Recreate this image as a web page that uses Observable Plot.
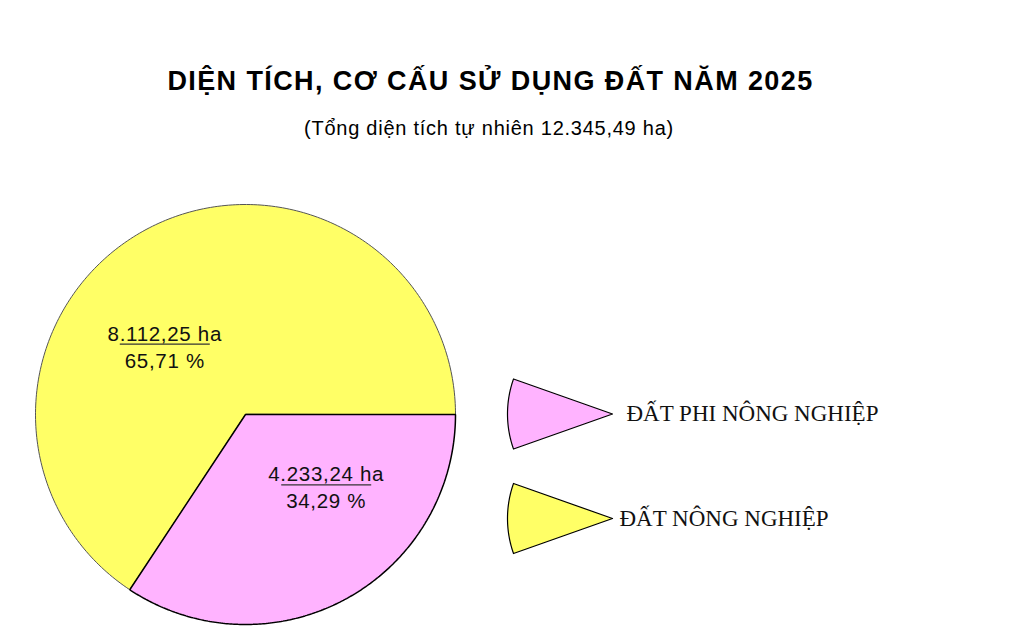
<!DOCTYPE html>
<html><head><meta charset="utf-8">
<script src="https://cdn.jsdelivr.net/npm/d3@7"></script>
<script src="https://cdn.jsdelivr.net/npm/@observablehq/plot@0.6"></script>
<style>
body{margin:0;background:#fff;width:1018px;height:631px;overflow:hidden}
#head{position:relative;height:170px}
#title{position:absolute;left:0;width:981px;top:68px;margin:0;text-align:center;font-weight:bold;font-size:27px;line-height:27px;letter-spacing:1.4px;font-family:"Liberation Sans",Arial,sans-serif;color:#000}
#sub{position:absolute;left:0;width:978px;top:118px;text-align:center;font-size:20px;line-height:20px;letter-spacing:0.75px;font-family:"Liberation Sans",Arial,sans-serif;color:#000}
#chart svg{display:block}
</style></head>
<body>
<div id="head"><h1 id="title"></h1><div id="sub"></div></div>
<div id="chart"></div>
<script>
// ---- data ----
const titleText = "DIỆN TÍCH, CƠ CẤU SỬ DỤNG ĐẤT NĂM 2025";
const subtitleText = "(Tổng diện tích tự nhiên 12.345,49 ha)";
const categories = ["ĐẤT PHI NÔNG NGHIỆP", "ĐẤT NÔNG NGHIỆP"];
const areas = [4233.24, 8112.25];
const areaLabels = ["4.233,24 ha", "8.112,25 ha"];
const percentLabels = ["34,29 %", "65,71 %"];
const colors = ["#ffb3ff", "#ffff66"];

document.getElementById("title").textContent = titleText;
document.getElementById("sub").textContent = subtitleText;

// ---- layout ----
const W = 1018, H = 461;
const cx = 245, cy = 244, R = 210;
const labelR = 0.51 * R, labelRot = -0.36;
const legendApexX = 612, legendApexY0 = 243.5, legendStep = 104.5, legendR = 105, legendHalf = 0.34;
const legendTextX = [626, 619];
const labelFont = "Liberation Sans, Arial, sans-serif";

function sector(x0, y0, r, a0, a1, n = 240) {
  const pts = [[x0, y0]];
  for (let i = 0; i <= n; i++) {
    const a = a0 + (a1 - a0) * i / n;
    pts.push([x0 + r * Math.sin(a), y0 - r * Math.cos(a)]);
  }
  return pts;
}

const arcs = d3.pie().sort(null).startAngle(Math.PI / 2).endAngle(Math.PI / 2 + 2 * Math.PI)(areas);
const slices = arcs.map((a, i) => ({i, pts: sector(cx, cy, R, a.startAngle, a.endAngle)}));
const labels = arcs.map((a, i) => {
  const m = (a.startAngle + a.endAngle) / 2 + labelRot;
  return {i, x: cx + labelR * Math.sin(m), y: cy - labelR * Math.cos(m), area: areaLabels[i], pct: percentLabels[i]};
});
const legend = categories.map((c, i) => ({
  i, name: c,
  pts: sector(legendApexX, legendApexY0 + i * legendStep, legendR, 1.5 * Math.PI - legendHalf, 1.5 * Math.PI + legendHalf, 60),
  ty: legendApexY0 + i * legendStep, tx: legendTextX[i]
}));

const sliceStroke = ["#000", "#555"], sliceWidth = [1.5, 1];
const order = [1, 0];

const marks = [];
for (const k of order) {
  const s = slices[k];
  marks.push(Plot.line(s.pts, {x: d => d[0], y: d => d[1], curve: "linear-closed", fill: colors[k], stroke: sliceStroke[k], strokeWidth: sliceWidth[k], strokeLinejoin: "miter"}));
}
for (const L of labels) {
  marks.push(Plot.link([L], {x1: d => d.x - 45, x2: d => d.x + 45, y1: d => d.y, y2: d => d.y, stroke: "#333", strokeWidth: 1.3}));
  marks.push(Plot.text([L], {x: "x", y: d => d.y - 10, text: "area", fontSize: 20.5, fontFamily: labelFont, fill: "#111", lineAnchor: "middle"}));
  marks.push(Plot.text([L], {x: "x", y: d => d.y + 17, text: "pct", fontSize: 20.5, fontFamily: labelFont, fill: "#111", lineAnchor: "middle"}));
}
for (const g of legend) {
  marks.push(Plot.line(g.pts, {x: d => d[0], y: d => d[1], curve: "linear-closed", fill: colors[g.i], stroke: "#000", strokeWidth: 1.2}));
  marks.push(Plot.text([g], {x: "tx", y: "ty", text: "name", textAnchor: "start", fontSize: 23, fontFamily: "Liberation Serif, Times New Roman, serif", fill: "#111", lineAnchor: "middle"}));
}

const chart = Plot.plot({
  width: W, height: H, margin: 0,
  x: {domain: [0, W], range: [0, W], axis: null},
  y: {domain: [0, H], range: [0, H], axis: null},
  style: {background: "#fff", overflow: "visible"},
  marks
});
d3.select(chart).selectAll(`g[font-family="${labelFont}"]`).style("letter-spacing", "0.7px");
document.getElementById("chart").append(chart);
</script>
</body></html>
